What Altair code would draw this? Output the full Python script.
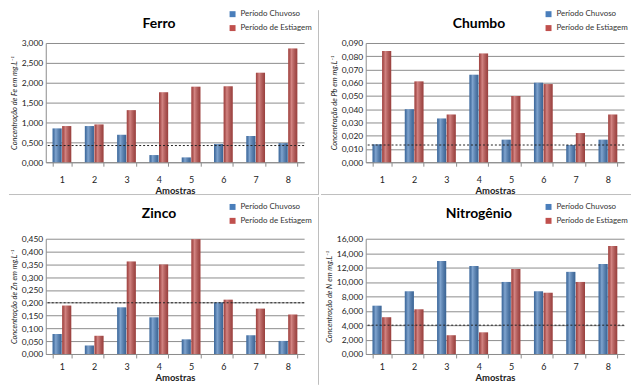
import altair as alt
import pandas as pd

# ---------------- data ----------------
amostras = ["1", "2", "3", "4", "5", "6", "7", "8"]
periodos = ["Período Chuvoso", "Período de Estiagem"]

nomes = ["Ferro", "Chumbo", "Zinco", "Nitrogênio"]
eixos_y = [
    "Concentração de Fe em mg.L⁻¹",
    "Concentração de Pb em mg.L⁻¹",
    "Concentração de Zn em mg.L⁻¹",
    "Concentração de N em mg.L⁻¹",
]

fe_chuvoso = [0.85, 0.91, 0.69, 0.18, 0.12, 0.46, 0.66, 0.48]
fe_estiagem = [0.91, 0.95, 1.31, 1.76, 1.90, 1.91, 2.25, 2.86]
pb_chuvoso = [0.0135, 0.040, 0.033, 0.066, 0.017, 0.060, 0.013, 0.017]
pb_estiagem = [0.084, 0.061, 0.036, 0.082, 0.050, 0.059, 0.022, 0.036]
zn_chuvoso = [0.078, 0.033, 0.182, 0.143, 0.057, 0.201, 0.073, 0.051]
zn_estiagem = [0.189, 0.071, 0.361, 0.349, 0.448, 0.212, 0.177, 0.154]
n_chuvoso = [6.7, 8.7, 12.9, 12.2, 10.0, 8.7, 11.4, 12.5]
n_estiagem = [5.1, 6.2, 2.6, 3.0, 11.8, 8.5, 10.0, 15.0]

limites = [0.42, 0.013, 0.200, 4.0]

fe_ticks = [0, 0.5, 1.0, 1.5, 2.0, 2.5, 3.0]
pb_ticks = [0, 0.01, 0.02, 0.03, 0.04, 0.05, 0.06, 0.07, 0.08, 0.09]
zn_ticks = [0, 0.05, 0.10, 0.15, 0.20, 0.25, 0.30, 0.35, 0.40, 0.45]
n_ticks = [0, 2, 4, 6, 8, 10, 12, 14, 16]

# ---------------- style ----------------
FONT = "Lato"
AZUL = "#4a7ebb"
VERMELHO = "#c0504d"
GRID = "#8c8c8c"
DIV = "#bdbdbd"
W = 260

brilho = {
    "gradient": "linear", "x1": 0, "x2": 1, "y1": 0, "y2": 0,
    "stops": [
        {"offset": 0, "color": "rgba(0,0,0,0.15)"},
        {"offset": 0.35, "color": "rgba(255,255,255,0.30)"},
        {"offset": 1, "color": "rgba(0,0,0,0.20)"},
    ],
}


def painel(idx, chuvoso, estiagem, ticks, row, col):
    H = 120 if row == 0 else 116
    left = 37 if col == 0 else 45
    right = 15 if col == 0 else 7
    top = 33 if row == 0 else 42
    bottom = 33 if row == 0 else 31

    df = pd.DataFrame({
        "Amostra": amostras * 2,
        "Período": [periodos[0]] * 8 + [periodos[1]] * 8,
        "Valor": chuvoso + estiagem,
    })
    um = pd.DataFrame({"k": [0]})
    tit = pd.DataFrame({"t": [nomes[idx]]})

    x_axis = alt.Axis(
        title="Amostras", labelAngle=0, tickBand="extent", ticks=True,
        tickSize=4, tickColor=GRID, domainColor=GRID,
        labelFont=FONT, labelFontSize=9, labelColor="#222",
        labelPadding=9 if row == 0 else 5,
        titleFont=FONT, titleFontSize=9.5, titleFontWeight="bold",
        titleColor="#222", titlePadding=1,
    )
    x_scale = alt.Scale(paddingInner=0.42, paddingOuter=0.21)
    y_axis = alt.Axis(
        values=ticks, format=".3f", labelOverlap=False,
        labelExpr="replace(datum.label, '.', ',')",
        title=eixos_y[idx], grid=True, gridColor=GRID, ticks=False,
        domainColor=GRID, labelFont=FONT, labelFontSize=8.5,
        labelColor="#222", labelPadding=3,
        titleFont=FONT, titleFontSize=7.5, titleFontStyle="italic",
        titleFontWeight="normal", titleColor="#222", titlePadding=3,
    )
    y_scale = alt.Scale(domain=[ticks[0], ticks[-1]], nice=False)

    def xe():
        return alt.X("Amostra:N", sort=amostras, scale=x_scale, axis=x_axis)

    def xo():
        return alt.XOffset("Período:N", sort=periodos,
                           scale=alt.Scale(paddingInner=0.05))

    def ye():
        return alt.Y("Valor:Q", scale=y_scale, axis=y_axis)

    frame = alt.Chart(um).mark_rect(opacity=0).encode(
        x=alt.value(-left), x2=alt.value(W + right),
        y=alt.value(-top), y2=alt.value(H + bottom),
    )

    bars = alt.Chart(df).mark_bar().encode(
        x=xe(), xOffset=xo(), y=ye(),
        color=alt.Color(
            "Período:N", sort=periodos,
            scale=alt.Scale(domain=periodos, range=[AZUL, VERMELHO]),
            legend=alt.Legend(
                title=None, orient="none",
                legendX=184 if col == 0 else 180,
                legendY=-33 if row == 0 else -36,
                symbolType="square", symbolSize=36, symbolStrokeWidth=0,
                labelFont=FONT, labelFontSize=8, labelColor="#333",
                labelOffset=4, rowPadding=6, padding=0,
            ),
        ),
    )

    shine = alt.Chart(df).mark_bar(fill=brilho).encode(
        x=xe(), xOffset=xo(), y=ye(),
    )

    lim = alt.Chart(um).mark_rule(
        color="#222", strokeDash=[2, 2], strokeWidth=1
    ).encode(y=alt.YDatum(limites[idx], scale=y_scale, axis=y_axis))

    titulo = alt.Chart(tit).mark_text(
        font=FONT, fontSize=14, fontWeight="bold", color="#000",
        align="center", baseline="middle",
    ).encode(
        text="t:N",
        x=alt.value(114),
        y=alt.value(-19 if row == 0 else -25),
    )

    layers = [frame, bars, shine, lim, titulo]

    if col == 0:
        layers.append(
            alt.Chart(um).mark_rule(color=DIV, strokeWidth=1).encode(
                x=alt.value(W + right - 0.5), x2=alt.value(W + right - 0.5),
                y=alt.value(-top), y2=alt.value(H + bottom),
            )
        )
    if row == 0:
        layers.append(
            alt.Chart(um).mark_rule(color=DIV, strokeWidth=1).encode(
                x=alt.value(-left), x2=alt.value(W + right),
                y=alt.value(H + bottom - 0.5), y2=alt.value(H + bottom - 0.5),
            )
        )

    return alt.layer(*layers).properties(width=W, height=H)


p1 = painel(0, fe_chuvoso, fe_estiagem, fe_ticks, 0, 0)
p2 = painel(1, pb_chuvoso, pb_estiagem, pb_ticks, 0, 1)
p3 = painel(2, zn_chuvoso, zn_estiagem, zn_ticks, 1, 0)
p4 = painel(3, n_chuvoso, n_estiagem, n_ticks, 1, 1)

chart = alt.concat(p1, p2, p3, p4, columns=2, spacing=0).resolve_scale(
    x="independent", y="independent", color="independent",
    xOffset="independent",
).resolve_legend(color="independent").properties(
    padding=0, background="white"
).configure_view(stroke=None)

chart.save("out.html", embed_options={"renderer": "svg", "actions": False})
